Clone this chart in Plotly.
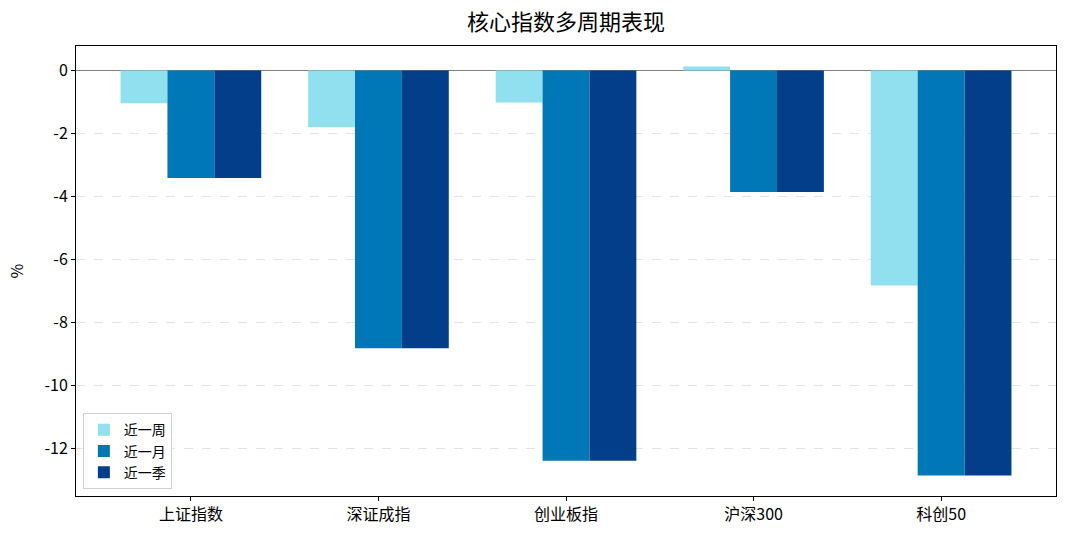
import plotly.graph_objects as go

categories = ["上证指数", "深证成指", "创业板指", "沪深300", "科创50"]
week = [-1.04, -1.80, -1.01, 0.13, -6.82]
month = [-3.41, -8.81, -12.38, -3.85, -12.85]
quarter = [-3.41, -8.81, -12.38, -3.85, -12.85]
series_names = ["近一周", "近一月", "近一季"]
colors = ["#90E0EF", "#0077B6", "#023E8A"]
yticks = [0, -2, -4, -6, -8, -10, -12]

FONT = "Noto Sans CJK SC, Microsoft YaHei, sans-serif"

fig = go.Figure()
for name, vals, col in zip(series_names, [week, month, quarter], colors):
    fig.add_trace(go.Bar(x=categories, y=vals, name=name, marker=dict(color=col, line=dict(width=0))))

fig.update_layout(
    width=1067, height=539,
    barmode="group", bargap=0.25, bargroupgap=0,
    plot_bgcolor="white", paper_bgcolor="white",
    margin=dict(l=76, r=11, t=46, b=43),
    font=dict(family=FONT, size=15, color="black"),
    title=dict(text="核心指数多周期表现", xref="paper", x=0.5, xanchor="center", y=0.958, yanchor="middle",
               font=dict(family=FONT, size=22, color="black")),
    showlegend=True,
    legend=dict(x=0.007, y=0.015, xanchor="left", yanchor="bottom",
                bordercolor="#d0d0d0", borderwidth=1, bgcolor="rgba(255,255,255,0.8)",
                font=dict(family=FONT, size=14), tracegroupgap=2, itemwidth=30),
)
fig.update_xaxes(
    type="category", range=[-0.6125, 4.6125],
    showline=True, linecolor="black", linewidth=1, mirror=True,
    ticks="outside", ticklen=4, tickcolor="black", showgrid=False,
    tickfont=dict(family=FONT, size=16),
)
fig.update_yaxes(
    range=[-13.50, 0.78],
    tickvals=yticks, ticktext=[str(v) for v in yticks],
    showline=True, linecolor="black", linewidth=1, mirror=True,
    ticks="outside", ticklen=4, tickcolor="black",
    showgrid=True, gridcolor="#e3e3e3", griddash="dash", gridwidth=1,
    zeroline=True, zerolinecolor="#808080", zerolinewidth=1.2,
    title=dict(text="%", font=dict(family=FONT, size=16), standoff=16),
    tickfont=dict(family=FONT, size=16),
)

fig.write_html("out.html")
